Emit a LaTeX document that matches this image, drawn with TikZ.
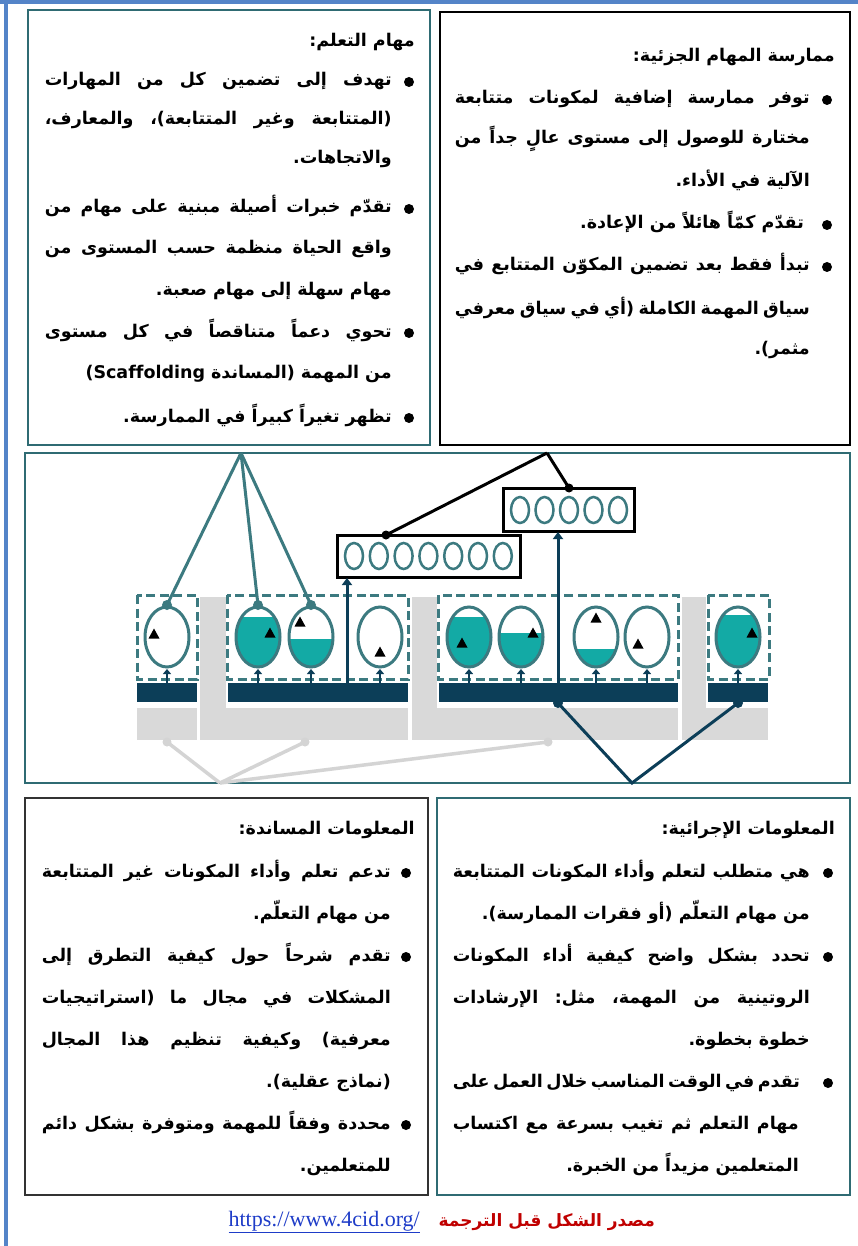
\documentclass[tikz,border=0pt]{standalone}
\usepackage{fontspec}
\usetikzlibrary{arrows.meta}
\TeXXeTstate=1
\setmainfont{Liberation Serif}
\newfontfamily\arabicfont[Script=Arabic]{DejaVu Sans}
\definecolor{pageblue}{RGB}{84,132,200}
\definecolor{boxteal}{RGB}{47,107,115}
\definecolor{estroke}{RGB}{60,122,128}
\definecolor{tfill}{RGB}{19,170,165}
\definecolor{navyc}{RGB}{12,62,88}
\definecolor{graybg}{RGB}{217,217,217}
\definecolor{grayln}{RGB}{212,212,212}
\definecolor{linkblue}{RGB}{30,60,200}
\definecolor{srcred}{RGB}{192,0,0}
\newcommand\JL[2]{\hbox to #1{\frenchspacing\spaceskip=0.2em plus 1fil\relax\xspaceskip=\spaceskip\beginR #2\endR}}
\newcommand\RL[1]{\hbox{\frenchspacing\beginR #1\endR}}
\tikzset{
  ar/.style={font=\arabicfont\bfseries\fontsize{17.5}{20}\selectfont, inner sep=0pt, anchor=east, text height=13pt, text depth=5pt},
  bul/.style={fill=black},
  tbox/.style={draw=boxteal, line width=1.6pt},
  kbox/.style={draw=black, line width=1.6pt},
  dbox/.style={draw=estroke, line width=3pt, dash pattern=on 9pt off 4.5pt},
  bar/.style={fill=navyc},
  gbg/.style={fill=graybg},
  egg/.style={draw=estroke, line width=3pt},
  tconn/.style={draw=estroke, line width=3pt},
  kconn/.style={draw=black, line width=3pt},
  nconn/.style={draw=navyc, line width=3pt},
  gconn/.style={draw=grayln, line width=3.5pt},
  uparrow/.style={draw=navyc, line width=3pt, -{Triangle[width=10pt,length=7pt]}},
  smallarrow/.style={draw=navyc, line width=2.5pt, -{Triangle[width=8pt,length=5pt]}},
}
\begin{document}
\begin{tikzpicture}[x=1pt,y=-1pt]
\useasboundingbox (0,0) rectangle (858,1246);
\fill[white] (0,0) rectangle (858,1246);
% page border
\fill[pageblue] (0,0) rectangle (858,4);
\fill[pageblue] (4,0) rectangle (8,1246);

% ---------- boxes ----------
\draw[tbox] (28,10) rectangle (430,445);
\draw[kbox] (440,12) rectangle (850,445);
\draw[tbox] (25,453) rectangle (850,783);
\draw[kbox, draw=black!80] (25,798) rectangle (428,1195);
\draw[tbox] (437,798) rectangle (850,1195);

% ---------- top-left text ----------
\node[ar] (tlT) at (415,43) {\RL{مهام التعلم:}};
\node[ar] (tl1) at (392,82) {\JL{347pt}{تهدف إلى تضمين كل من المهارات}};
\node[ar] (tl2) at (392,121) {\JL{347pt}{(المتتابعة وغير المتتابعة)، والمعارف،}};
\node[ar] (tl3) at (392,160) {\RL{والاتجاهات.}};
\node[ar] (tl4) at (392,209) {\JL{347pt}{تقدّم خبرات أصيلة مبنية على مهام من}};
\node[ar] (tl5) at (392,250) {\JL{347pt}{واقع الحياة منظمة حسب المستوى من}};
\node[ar] (tl6) at (392,291) {\RL{مهام سهلة إلى مهام صعبة.}};
\node[ar] (tl7) at (392,333) {\JL{347pt}{تحوي دعماً متناقصاً في كل مستوى}};
\node[ar] (tl8) at (392,374) {\RL{من المهمة (المساندة (Scaffolding}};
\node[ar] (tl9) at (392,418) {\RL{تظهر تغيراً كبيراً في الممارسة.}};
\foreach \y in {82,209,333,418} \fill[bul] (409,\y) circle [radius=5pt];

% ---------- top-right text ----------
\node[ar] (trT) at (835,58) {\RL{ممارسة المهام الجزئية:}};
\node[ar] (tr1) at (810,100) {\JL{355pt}{توفر ممارسة إضافية لمكونات متتابعة}};
\node[ar] (tr2) at (810,140) {\JL{355pt}{مختارة للوصول إلى مستوى عالٍ جداً من}};
\node[ar] (tr3) at (810,183) {\RL{الآلية في الأداء.}};
\node[ar] (tr4) at (804,225) {\RL{تقدّم كمّاً هائلاً من الإعادة.}};
\node[ar] (tr5) at (810,267) {\JL{355pt}{تبدأ فقط بعد تضمين المكوّن المتتابع في}};
\node[ar] (tr6) at (810,310) {\JL{355pt}{سياق المهمة الكاملة (أي في سياق معرفي}};
\node[ar] (tr7) at (810,350) {\RL{مثمر).}};
\foreach \y in {100,225,267} \fill[bul] (827,\y) circle [radius=5pt];

% ---------- bottom-left text ----------
\node[ar] (blT) at (415,830) {\RL{المعلومات المساندة:}};
\node[ar] (bl1) at (391,873) {\JL{349pt}{تدعم تعلم وأداء المكونات غير المتتابعة}};
\node[ar] (bl2) at (391,915) {\RL{من مهام التعلّم.}};
\node[ar] (bl3) at (391,957) {\JL{349pt}{تقدم شرحاً حول كيفية التطرق إلى}};
\node[ar] (bl4) at (391,999) {\JL{349pt}{المشكلات في مجال ما (استراتيجيات}};
\node[ar] (bl5) at (391,1041) {\JL{349pt}{معرفية) وكيفية تنظيم هذا المجال}};
\node[ar] (bl6) at (391,1083) {\RL{(نماذج عقلية).}};
\node[ar] (bl7) at (391,1125) {\JL{349pt}{محددة وفقاً للمهمة ومتوفرة بشكل دائم}};
\node[ar] (bl8) at (391,1167) {\RL{للمتعلمين.}};
\foreach \y in {873,957,1125} \fill[bul] (406,\y) circle [radius=5pt];

% ---------- bottom-right text ----------
\node[ar] (brT) at (835,830) {\RL{المعلومات الإجرائية:}};
\node[ar] (br1) at (810,873) {\JL{357pt}{هي متطلب لتعلم وأداء المكونات المتتابعة}};
\node[ar] (br2) at (810,915) {\RL{من مهام التعلّم (أو فقرات الممارسة).}};
\node[ar] (br3) at (810,957) {\JL{357pt}{تحدد بشكل واضح كيفية أداء المكونات}};
\node[ar] (br4) at (810,999) {\JL{357pt}{الروتينية من المهمة، مثل: الإرشادات}};
\node[ar] (br5) at (810,1041) {\RL{خطوة بخطوة.}};
\node[ar] (br6) at (799,1083) {\JL{346pt}{تقدم في الوقت المناسب خلال العمل على}};
\node[ar] (br7) at (799,1125) {\JL{346pt}{مهام التعلم ثم تغيب بسرعة مع اكتساب}};
\node[ar] (br8) at (799,1167) {\RL{المتعلمين مزيداً من الخبرة.}};
\foreach \y in {873,957,1083} \fill[bul] (828,\y) circle [radius=5pt];

% ---------- footer ----------
\node[inner sep=0pt, anchor=east, font=\fontsize{22}{25}\selectfont, text=linkblue] (link) at (420,1222) {\underline{https://www.4cid.org/}};
\node[ar, text=srcred, font=\arabicfont\bfseries\fontsize{17}{20}\selectfont] (src) at (655,1222) {\RL{مصدر الشكل قبل الترجمة}};

% ---------- diagram: gray background ----------
\fill[gbg] (137,708) rectangle (197,740);
\fill[gbg] (200,597) rectangle (226,740);
\fill[gbg] (200,708) rectangle (408,740);
\fill[gbg] (412,597) rectangle (437,740);
\fill[gbg] (412,708) rectangle (678,740);
\fill[gbg] (682,597) rectangle (706,740);
\fill[gbg] (682,708) rectangle (768,740);

% dashed boxes
\draw[dbox] (137,595) rectangle (197,679);
\draw[dbox] (227,595) rectangle (408,679);
\draw[dbox] (438,595) rectangle (678,679);
\draw[dbox] (708,595) rectangle (769,679);

% bars
\fill[bar] (137,683) rectangle (197,702);
\fill[bar] (228,683) rectangle (408,702);
\fill[bar] (439,683) rectangle (678,702);
\fill[bar] (708,683) rectangle (768,702);

% eggs
\foreach \cx/\top/\tx/\ty in {167/700/154/634, 258/617/270/633, 311/639/300/622, 380/700/380/652, 469/617/462/643, 521/633/533/633, 596/649/596/618, 647/700/638/644, 738/615/752/633} {
  \begin{scope}
    \clip (\cx,637) ellipse [x radius=22pt, y radius=30pt];
    \fill[tfill] (\cx-30,\top) rectangle (\cx+30,680);
  \end{scope}
  \draw[egg] (\cx,637) ellipse [x radius=22pt, y radius=30pt];
  \fill[black] (\tx-5.5,\ty+4.5) -- (\tx+5.5,\ty+4.5) -- (\tx,\ty-5.5) -- cycle;
  \draw[smallarrow] (\cx,684) -- (\cx,669);
}

% small-ellipse boxes
\draw[kconn] (337,535) rectangle (520,577);
\foreach \i in {0,...,6} \draw[draw=estroke, line width=2.5pt] (354+24.8*\i,556) ellipse [x radius=9pt, y radius=13pt];
\draw[kconn] (503,488) rectangle (634,531);
\foreach \i in {0,...,4} \draw[draw=estroke, line width=2.5pt] (520+24.5*\i,510) ellipse [x radius=9pt, y radius=13pt];

% up arrows to boxes
\draw[uparrow] (347,684) -- (347,578);
\draw[uparrow] (558,684) -- (558,532);

% connectors: black from top
\coordinate (kApex) at (547,453);
\coordinate (k7) at (386,535);
\coordinate (k5) at (569,488);
\draw[kconn] (k7) -- (kApex);
\draw[kconn] (k5) -- (kApex);
\fill (k7) circle [radius=4.5pt];
\fill (k5) circle [radius=4.5pt];

% connectors: teal from top
\coordinate (tApex) at (241,453);
\coordinate (t1) at (167,605);
\coordinate (t2) at (258,605);
\coordinate (t3) at (311,605);
\foreach \c in {t1,t2,t3} {
  \draw[tconn] (tApex) -- (\c);
  \fill[estroke] (\c) circle [radius=5pt];
}

% connectors: navy from bottom
\coordinate (nApex) at (632,783);
\coordinate (n1) at (558,703);
\coordinate (n2) at (738,703);
\draw[nconn] (n1) -- (nApex) -- (n2);
\fill[navyc] (n1) circle [radius=5pt];
\fill[navyc] (n2) circle [radius=5pt];

% connectors: gray from bottom
\coordinate (gApex) at (220,783);
\coordinate (g1) at (167,742);
\coordinate (g2) at (305,742);
\coordinate (g3) at (548,742);
\foreach \c in {g1,g2,g3} {
  \draw[gconn] (gApex) -- (\c);
  \fill[grayln] (\c) circle [radius=4.5pt];
}
\end{tikzpicture}
\end{document}
